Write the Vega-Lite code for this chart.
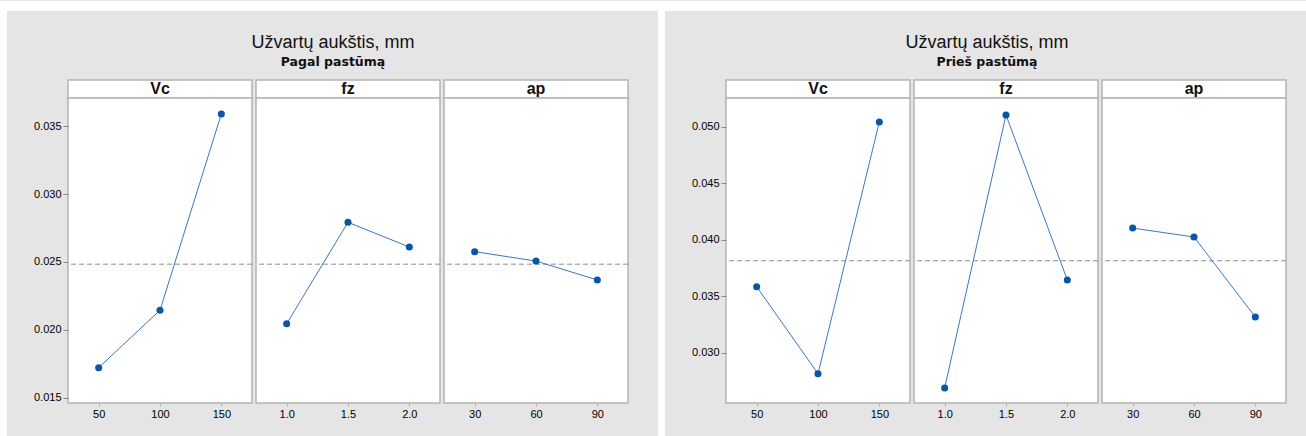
{
  "$schema": "https://vega.github.io/schema/vega-lite/v6.json",
  "background": "#e5e5e5",
  "padding": 0,
  "datasets": {
    "effects": [
      {"side": "pagal", "factor": "Vc", "level": 50, "effect": 0.01723},
      {"side": "pagal", "factor": "Vc", "level": 100, "effect": 0.02145},
      {"side": "pagal", "factor": "Vc", "level": 150, "effect": 0.03588},
      {"side": "pagal", "factor": "fz", "level": 1.0, "effect": 0.02046},
      {"side": "pagal", "factor": "fz", "level": 1.5, "effect": 0.02792},
      {"side": "pagal", "factor": "fz", "level": 2.0, "effect": 0.02610},
      {"side": "pagal", "factor": "ap", "level": 30, "effect": 0.02576},
      {"side": "pagal", "factor": "ap", "level": 60, "effect": 0.02507},
      {"side": "pagal", "factor": "ap", "level": 90, "effect": 0.02368},
      {"side": "pries", "factor": "Vc", "level": 50, "effect": 0.03586},
      {"side": "pries", "factor": "Vc", "level": 100, "effect": 0.02817},
      {"side": "pries", "factor": "Vc", "level": 150, "effect": 0.05042},
      {"side": "pries", "factor": "fz", "level": 1.0, "effect": 0.02691},
      {"side": "pries", "factor": "fz", "level": 1.5, "effect": 0.05103},
      {"side": "pries", "factor": "fz", "level": 2.0, "effect": 0.03645},
      {"side": "pries", "factor": "ap", "level": 30, "effect": 0.04104},
      {"side": "pries", "factor": "ap", "level": 60, "effect": 0.04025},
      {"side": "pries", "factor": "ap", "level": 90, "effect": 0.03318}
    ],
    "means": [
      {"side": "pagal", "mean": 0.02484},
      {"side": "pries", "mean": 0.03815}
    ],
    "titles": [
      {"side": "pagal", "title": "Užvartų aukštis, mm", "subtitle": "Pagal pastūmą"},
      {"side": "pries", "title": "Užvartų aukštis, mm", "subtitle": "Prieš pastūmą"}
    ]
  },
  "spacing": 0,
  "vconcat": [
    {"width": 1306, "height": 10, "view": {"fill": "white", "stroke": null}, "data": {"values": [{}]}, "mark": {"type": "text", "text": ""}},
    {
      "spacing": 0,
      "hconcat": [
        {"width": 7, "height": 426, "view": {"fill": "white", "stroke": null}, "data": {"values": [{}]}, "mark": {"type": "text", "text": ""}},
        {
          "spacing": 0,
          "vconcat": [
            {
              "width": 590, "height": 68,
              "data": {"name": "titles"},
              "transform": [{"filter": "datum.side === 'pagal'"}],
              "layer": [
                {"mark": {"type": "text", "fontSize": 18, "baseline": "alphabetic", "dy": 3, "dx": -30, "color": "#111111"}, "encoding": {"text": {"field": "title"}}},
                {"mark": {"type": "text", "font": "DejaVu Sans", "fontSize": 12.5, "fontWeight": "bold", "baseline": "alphabetic", "dy": 21, "dx": -30, "color": "#111111"}, "encoding": {"text": {"field": "subtitle"}}}
              ]
            },
            {
              "spacing": 0,
              "hconcat": [
                {
                  "spacing": 0, "bounds": "flush",
                  "vconcat": [
                    {"width": 184, "height": 18, "view": {"fill": "white", "stroke": "#b4b4b4", "strokeWidth": 1.5}, "data": {"values": [{"factor": "Vc"}]}, "mark": {"type": "text", "fontSize": 16, "fontWeight": "bold", "color": "#111111"}, "encoding": {"text": {"field": "factor"}}},
                    {
                      "width": 184, "height": 305,
                      "view": {"fill": "white", "stroke": "#b4b4b4", "strokeWidth": 1.5},
                      "layer": [
                        {"data": {"name": "means"}, "transform": [{"filter": "datum.side === 'pagal'"}], "mark": {"type": "rule", "color": "#8f8f8f", "strokeWidth": 1, "strokeDash": [5, 3]}, "encoding": {"y": {"field": "mean", "type": "quantitative", "scale": {"domain": [0.014632, 0.037059], "nice": false, "zero": false}, "axis": {"values": [0.015, 0.02, 0.025, 0.03, 0.035], "format": ".3f", "title": null, "minExtent": 60}}}},
                        {"data": {"name": "effects"}, "transform": [{"filter": "datum.side === 'pagal' && datum.factor === 'Vc'"}], "mark": {"type": "line", "color": "#3a78c2", "strokeWidth": 1}, "encoding": {"x": {"field": "level", "type": "quantitative", "scale": {"domain": [25, 175], "nice": false, "zero": false}, "axis": {"values": [50, 100, 150], "format": "d", "title": null}}, "y": {"field": "effect", "type": "quantitative", "axis": {"values": [0.015, 0.02, 0.025, 0.03, 0.035], "format": ".3f", "title": null, "minExtent": 60}}}},
                        {"data": {"name": "effects"}, "transform": [{"filter": "datum.side === 'pagal' && datum.factor === 'Vc'"}], "mark": {"type": "point", "filled": true, "size": 50, "opacity": 1, "color": "#0a56a5"}, "encoding": {"x": {"field": "level", "type": "quantitative", "axis": {"values": [50, 100, 150], "format": "d", "title": null}}, "y": {"field": "effect", "type": "quantitative", "axis": {"values": [0.015, 0.02, 0.025, 0.03, 0.035], "format": ".3f", "title": null, "minExtent": 60}}}}
                      ]
                    }
                  ]
                },
                {
                  "spacing": 0, "bounds": "flush",
                  "vconcat": [
                    {"width": 184, "height": 18, "view": {"fill": "white", "stroke": "#b4b4b4", "strokeWidth": 1.5}, "data": {"values": [{"factor": "fz"}]}, "mark": {"type": "text", "fontSize": 16, "fontWeight": "bold", "color": "#111111"}, "encoding": {"text": {"field": "factor"}}},
                    {
                      "width": 184, "height": 305,
                      "view": {"fill": "white", "stroke": "#b4b4b4", "strokeWidth": 1.5},
                      "layer": [
                        {"data": {"name": "means"}, "transform": [{"filter": "datum.side === 'pagal'"}], "mark": {"type": "rule", "color": "#8f8f8f", "strokeWidth": 1, "strokeDash": [5, 3]}, "encoding": {"y": {"field": "mean", "type": "quantitative", "scale": {"domain": [0.014632, 0.037059], "nice": false, "zero": false}, "axis": null}}},
                        {"data": {"name": "effects"}, "transform": [{"filter": "datum.side === 'pagal' && datum.factor === 'fz'"}], "mark": {"type": "line", "color": "#3a78c2", "strokeWidth": 1}, "encoding": {"x": {"field": "level", "type": "quantitative", "scale": {"domain": [0.75, 2.25], "nice": false, "zero": false}, "axis": {"values": [1, 1.5, 2], "format": ".1f", "title": null}}, "y": {"field": "effect", "type": "quantitative", "axis": null}}},
                        {"data": {"name": "effects"}, "transform": [{"filter": "datum.side === 'pagal' && datum.factor === 'fz'"}], "mark": {"type": "point", "filled": true, "size": 50, "opacity": 1, "color": "#0a56a5"}, "encoding": {"x": {"field": "level", "type": "quantitative", "axis": {"values": [1, 1.5, 2], "format": ".1f", "title": null}}, "y": {"field": "effect", "type": "quantitative", "axis": null}}}
                      ]
                    }
                  ]
                },
                {
                  "spacing": 0, "bounds": "flush",
                  "vconcat": [
                    {"width": 184, "height": 18, "view": {"fill": "white", "stroke": "#b4b4b4", "strokeWidth": 1.5}, "data": {"values": [{"factor": "ap"}]}, "mark": {"type": "text", "fontSize": 16, "fontWeight": "bold", "color": "#111111"}, "encoding": {"text": {"field": "factor"}}},
                    {
                      "width": 184, "height": 305,
                      "view": {"fill": "white", "stroke": "#b4b4b4", "strokeWidth": 1.5},
                      "layer": [
                        {"data": {"name": "means"}, "transform": [{"filter": "datum.side === 'pagal'"}], "mark": {"type": "rule", "color": "#8f8f8f", "strokeWidth": 1, "strokeDash": [5, 3]}, "encoding": {"y": {"field": "mean", "type": "quantitative", "scale": {"domain": [0.014632, 0.037059], "nice": false, "zero": false}, "axis": null}}},
                        {"data": {"name": "effects"}, "transform": [{"filter": "datum.side === 'pagal' && datum.factor === 'ap'"}], "mark": {"type": "line", "color": "#3a78c2", "strokeWidth": 1}, "encoding": {"x": {"field": "level", "type": "quantitative", "scale": {"domain": [15, 105], "nice": false, "zero": false}, "axis": {"values": [30, 60, 90], "format": "d", "title": null}}, "y": {"field": "effect", "type": "quantitative", "axis": null}}},
                        {"data": {"name": "effects"}, "transform": [{"filter": "datum.side === 'pagal' && datum.factor === 'ap'"}], "mark": {"type": "point", "filled": true, "size": 50, "opacity": 1, "color": "#0a56a5"}, "encoding": {"x": {"field": "level", "type": "quantitative", "axis": {"values": [30, 60, 90], "format": "d", "title": null}}, "y": {"field": "effect", "type": "quantitative", "axis": null}}}
                      ]
                    }
                  ]
                }
              ]
            }
          ]
        },
        {"width": 7, "height": 426, "view": {"fill": "white", "stroke": null}, "data": {"values": [{}]}, "mark": {"type": "text", "text": ""}},
        {
          "spacing": 0,
          "vconcat": [
            {
              "width": 582, "height": 68,
              "data": {"name": "titles"},
              "transform": [{"filter": "datum.side === 'pries'"}],
              "layer": [
                {"mark": {"type": "text", "fontSize": 18, "baseline": "alphabetic", "dy": 3, "dx": -30, "color": "#111111"}, "encoding": {"text": {"field": "title"}}},
                {"mark": {"type": "text", "font": "DejaVu Sans", "fontSize": 12.5, "fontWeight": "bold", "baseline": "alphabetic", "dy": 21, "dx": -30, "color": "#111111"}, "encoding": {"text": {"field": "subtitle"}}}
              ]
            },
            {
              "spacing": 0,
              "hconcat": [
                {
                  "spacing": 0, "bounds": "flush",
                  "vconcat": [
                    {"width": 184, "height": 18, "view": {"fill": "white", "stroke": "#b4b4b4", "strokeWidth": 1.5}, "data": {"values": [{"factor": "Vc"}]}, "mark": {"type": "text", "fontSize": 16, "fontWeight": "bold", "color": "#111111"}, "encoding": {"text": {"field": "factor"}}},
                    {
                      "width": 184, "height": 305,
                      "view": {"fill": "white", "stroke": "#b4b4b4", "strokeWidth": 1.5},
                      "layer": [
                        {"data": {"name": "means"}, "transform": [{"filter": "datum.side === 'pries'"}], "mark": {"type": "rule", "color": "#8f8f8f", "strokeWidth": 1, "strokeDash": [5, 3]}, "encoding": {"y": {"field": "mean", "type": "quantitative", "scale": {"domain": [0.025581, 0.052536], "nice": false, "zero": false}, "axis": {"values": [0.03, 0.035, 0.04, 0.045, 0.05], "format": ".3f", "title": null, "minExtent": 60}}}},
                        {"data": {"name": "effects"}, "transform": [{"filter": "datum.side === 'pries' && datum.factor === 'Vc'"}], "mark": {"type": "line", "color": "#3a78c2", "strokeWidth": 1}, "encoding": {"x": {"field": "level", "type": "quantitative", "scale": {"domain": [25, 175], "nice": false, "zero": false}, "axis": {"values": [50, 100, 150], "format": "d", "title": null}}, "y": {"field": "effect", "type": "quantitative", "axis": {"values": [0.03, 0.035, 0.04, 0.045, 0.05], "format": ".3f", "title": null, "minExtent": 60}}}},
                        {"data": {"name": "effects"}, "transform": [{"filter": "datum.side === 'pries' && datum.factor === 'Vc'"}], "mark": {"type": "point", "filled": true, "size": 50, "opacity": 1, "color": "#0a56a5"}, "encoding": {"x": {"field": "level", "type": "quantitative", "axis": {"values": [50, 100, 150], "format": "d", "title": null}}, "y": {"field": "effect", "type": "quantitative", "axis": {"values": [0.03, 0.035, 0.04, 0.045, 0.05], "format": ".3f", "title": null, "minExtent": 60}}}}
                      ]
                    }
                  ]
                },
                {
                  "spacing": 0, "bounds": "flush",
                  "vconcat": [
                    {"width": 184, "height": 18, "view": {"fill": "white", "stroke": "#b4b4b4", "strokeWidth": 1.5}, "data": {"values": [{"factor": "fz"}]}, "mark": {"type": "text", "fontSize": 16, "fontWeight": "bold", "color": "#111111"}, "encoding": {"text": {"field": "factor"}}},
                    {
                      "width": 184, "height": 305,
                      "view": {"fill": "white", "stroke": "#b4b4b4", "strokeWidth": 1.5},
                      "layer": [
                        {"data": {"name": "means"}, "transform": [{"filter": "datum.side === 'pries'"}], "mark": {"type": "rule", "color": "#8f8f8f", "strokeWidth": 1, "strokeDash": [5, 3]}, "encoding": {"y": {"field": "mean", "type": "quantitative", "scale": {"domain": [0.025581, 0.052536], "nice": false, "zero": false}, "axis": null}}},
                        {"data": {"name": "effects"}, "transform": [{"filter": "datum.side === 'pries' && datum.factor === 'fz'"}], "mark": {"type": "line", "color": "#3a78c2", "strokeWidth": 1}, "encoding": {"x": {"field": "level", "type": "quantitative", "scale": {"domain": [0.75, 2.25], "nice": false, "zero": false}, "axis": {"values": [1, 1.5, 2], "format": ".1f", "title": null}}, "y": {"field": "effect", "type": "quantitative", "axis": null}}},
                        {"data": {"name": "effects"}, "transform": [{"filter": "datum.side === 'pries' && datum.factor === 'fz'"}], "mark": {"type": "point", "filled": true, "size": 50, "opacity": 1, "color": "#0a56a5"}, "encoding": {"x": {"field": "level", "type": "quantitative", "axis": {"values": [1, 1.5, 2], "format": ".1f", "title": null}}, "y": {"field": "effect", "type": "quantitative", "axis": null}}}
                      ]
                    }
                  ]
                },
                {
                  "spacing": 0, "bounds": "flush",
                  "vconcat": [
                    {"width": 184, "height": 18, "view": {"fill": "white", "stroke": "#b4b4b4", "strokeWidth": 1.5}, "data": {"values": [{"factor": "ap"}]}, "mark": {"type": "text", "fontSize": 16, "fontWeight": "bold", "color": "#111111"}, "encoding": {"text": {"field": "factor"}}},
                    {
                      "width": 184, "height": 305,
                      "view": {"fill": "white", "stroke": "#b4b4b4", "strokeWidth": 1.5},
                      "layer": [
                        {"data": {"name": "means"}, "transform": [{"filter": "datum.side === 'pries'"}], "mark": {"type": "rule", "color": "#8f8f8f", "strokeWidth": 1, "strokeDash": [5, 3]}, "encoding": {"y": {"field": "mean", "type": "quantitative", "scale": {"domain": [0.025581, 0.052536], "nice": false, "zero": false}, "axis": null}}},
                        {"data": {"name": "effects"}, "transform": [{"filter": "datum.side === 'pries' && datum.factor === 'ap'"}], "mark": {"type": "line", "color": "#3a78c2", "strokeWidth": 1}, "encoding": {"x": {"field": "level", "type": "quantitative", "scale": {"domain": [15, 105], "nice": false, "zero": false}, "axis": {"values": [30, 60, 90], "format": "d", "title": null}}, "y": {"field": "effect", "type": "quantitative", "axis": null}}},
                        {"data": {"name": "effects"}, "transform": [{"filter": "datum.side === 'pries' && datum.factor === 'ap'"}], "mark": {"type": "point", "filled": true, "size": 50, "opacity": 1, "color": "#0a56a5"}, "encoding": {"x": {"field": "level", "type": "quantitative", "axis": {"values": [30, 60, 90], "format": "d", "title": null}}, "y": {"field": "effect", "type": "quantitative", "axis": null}}}
                      ]
                    }
                  ]
                }
              ]
            }
          ]
        }
      ]
    }
  ],
  "config": {
    "view": {"stroke": null},
    "font": "Liberation Sans",
    "text": {"font": "Liberation Sans"},
    "axis": {"grid": false, "domain": false, "labelFont": "Liberation Sans", "labelFontSize": 11, "labelColor": "#000000", "tickColor": "#8a8a8a", "tickSize": 5, "labelPadding": 2},
    "axisX": {"tickSize": 3, "tickColor": "#b0b0b0", "labelPadding": 2}
  }
}
